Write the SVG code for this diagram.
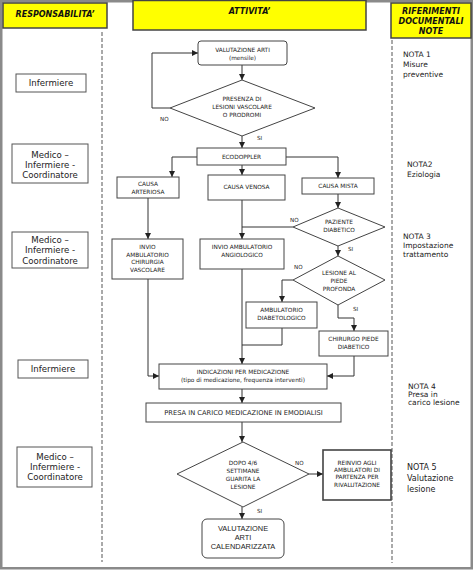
<svg xmlns="http://www.w3.org/2000/svg" width="474" height="571" viewBox="0 0 474 571">
<style>
.frame{fill:#fff;stroke:#8a8a8a;stroke-width:2.5}
.hdr{fill:#ffff00;stroke:#444;stroke-width:1.5}
.hdrt{font-family:"DejaVu Sans",Verdana,sans-serif;font-weight:bold;font-style:italic;font-size:8px;fill:#111;text-anchor:middle}
.dash{stroke:#555;stroke-width:1;stroke-dasharray:4,2;fill:none}
.role{fill:#fff;stroke:#555;stroke-width:1}
.rolet{font-family:"DejaVu Sans",Verdana,sans-serif;font-size:8.6px;fill:#222;text-anchor:middle}
.note{font-family:"DejaVu Sans",Verdana,sans-serif;font-size:7.5px;fill:#222}
.note5{font-family:"DejaVu Sans",Verdana,sans-serif;font-size:8px;fill:#222}
.box{fill:#fff;stroke:#444;stroke-width:1}
.t{font-family:"DejaVu Sans",Verdana,sans-serif;font-size:5.8px;fill:#222;text-anchor:middle}
.t2{font-family:"DejaVu Sans",Verdana,sans-serif;font-size:6.7px;fill:#222;text-anchor:middle}
.ta{font-family:"Liberation Sans",Arial,sans-serif;font-size:7.4px;fill:#222;text-anchor:middle}
.lbl{font-family:"DejaVu Sans",Verdana,sans-serif;font-size:5.6px;fill:#222}
.c{fill:none;stroke:#333;stroke-width:1}
</style>
<defs>
<marker id="ah" viewBox="0 0 8 8" refX="8" refY="4" markerWidth="6" markerHeight="6" markerUnits="userSpaceOnUse" orient="auto">
<path d="M0,0 L8,4 L0,8 z" fill="#222"/>
</marker>
</defs>

<rect class="frame" x="1.25" y="1.25" width="470.5" height="567"/>

<g id="headers">
<rect class="hdr" x="3" y="3" width="104" height="25"/>
<text class="hdrt" x="55" y="16.5">RESPONSABILITA’</text>
<rect class="hdr" x="133" y="0.5" width="233" height="29.5"/>
<text class="hdrt" x="249.5" y="14">ATTIVITA’</text>
<rect class="hdr" x="391" y="3" width="80" height="35"/>
<text class="hdrt" x="431" y="14">RIFERIMENTI</text>
<text class="hdrt" x="431" y="24">DOCUMENTALI</text>
<text class="hdrt" x="431" y="34">NOTE</text>
</g>

<g id="lanes">
<line class="dash" x1="102" y1="32" x2="102" y2="562"/>
<line class="dash" x1="392" y1="40" x2="392" y2="563"/>
</g>

<g id="roles">
<g id="role1"><rect class="role" x="16" y="74" width="70" height="18"/><text class="rolet" x="51" y="86">Infermiere</text></g>
<g id="role2"><rect class="role" x="12" y="144" width="76" height="39"/>
<text class="rolet" x="50" y="158">Medico –</text><text class="rolet" x="50" y="168">Infermiere -</text><text class="rolet" x="50" y="178">Coordinatore</text></g>
<g id="role3"><rect class="role" x="12" y="232" width="76" height="36"/>
<text class="rolet" x="50" y="243">Medico –</text><text class="rolet" x="50" y="253">Infermiere -</text><text class="rolet" x="50" y="264">Coordinatore</text></g>
<g id="role4"><rect class="role" x="18" y="360" width="70" height="18"/><text class="rolet" x="53" y="372">Infermiere</text></g>
<g id="role5"><rect class="role" x="17" y="447" width="75" height="40"/>
<text class="rolet" x="55" y="460">Medico –</text><text class="rolet" x="55" y="470">Infermiere -</text><text class="rolet" x="55" y="480">Coordinatore</text></g>
</g>

<g id="notes">
<text class="note" x="403" y="57">NOTA 1</text><text class="note" x="403" y="67">Misure</text><text class="note" x="403" y="77">preventive</text>
<text class="note" x="407" y="167">NOTA2</text><text class="note" x="407" y="177">Eziologia</text>
<text class="note" x="403" y="239">NOTA 3</text><text class="note" x="403" y="248">Impostazione</text><text class="note" x="403" y="257">trattamento</text>
<text class="note" x="408" y="389">NOTA 4</text><text class="note" x="408" y="397">Presa in</text><text class="note" x="408" y="405">carico lesione</text>
<text class="note5" x="407" y="470">NOTA 5</text><text class="note5" x="407" y="481">Valutazione</text><text class="note5" x="407" y="492">lesione</text>
</g>

<g id="connectors">
<path class="c" d="M242,65 V80" marker-end="url(#ah)"/>
<path class="c" d="M170,108 H152 V53 H198" marker-end="url(#ah)"/>
<path class="c" d="M242,136 V148" marker-end="url(#ah)"/>
<path class="c" d="M197,157 H172 V177" marker-end="url(#ah)"/>
<path class="c" d="M242,165 V175" marker-end="url(#ah)"/>
<path class="c" d="M286,157 H338 V178" marker-end="url(#ah)"/>
<path class="c" d="M338,194 V208" marker-end="url(#ah)"/>
<path class="c" d="M148,198 V239" marker-end="url(#ah)"/>
<path class="c" d="M242,200 V239" marker-end="url(#ah)"/>
<path class="c" d="M293,227 H242"/>
<path class="c" d="M338,246 V256" marker-end="url(#ah)"/>
<path class="c" d="M293,280 H282 V302" marker-end="url(#ah)"/>
<path class="c" d="M338,305 V318 H354 V331" marker-end="url(#ah)"/>
<path class="c" d="M242,269 V364" marker-end="url(#ah)"/>
<path class="c" d="M282,328 V345 H242"/>
<path class="c" d="M148,279 V376 H159" marker-end="url(#ah)"/>
<path class="c" d="M354,356 V376 H327" marker-end="url(#ah)"/>
<path class="c" d="M242,389 V403" marker-end="url(#ah)"/>
<path class="c" d="M242,422 V442" marker-end="url(#ah)"/>
<path class="c" d="M309,474 H323" marker-end="url(#ah)"/>
<path class="c" d="M242,507 V519" marker-end="url(#ah)"/>
<text class="lbl" x="160" y="121">NO</text>
<text class="lbl" x="257" y="140">SI</text>
<text class="lbl" x="290" y="222">NO</text>
<text class="lbl" x="348" y="251">SI</text>
<text class="lbl" x="294" y="269">NO</text>
<text class="lbl" x="353" y="311">SI</text>
<text class="lbl" x="295" y="465">NO</text>
<text class="lbl" x="257" y="513">SI</text>
</g>

<g id="n_valutazione">
<rect class="box" x="198" y="41" width="89" height="24" rx="3"/>
<text class="t" x="242.5" y="52">VALUTAZIONE ARTI</text><text class="t" x="242.5" y="59.5">(mensile)</text>
</g>
<g id="n_presenza">
<polygon class="box" points="242,80 315,108 242,136 170,108"/>
<text class="t" x="242" y="101">PRESENZA DI</text><text class="t" x="242" y="109">LESIONI VASCOLARE</text><text class="t" x="242" y="117">O PRODROMI</text>
</g>
<g id="n_ecodoppler">
<rect class="box" x="197" y="148" width="89" height="17"/>
<text class="t" x="241.5" y="159">ECODOPPLER</text>
</g>
<g id="n_arteriosa">
<rect class="box" x="117" y="177" width="62" height="21"/>
<text class="t" x="148" y="186">CAUSA</text><text class="t" x="148" y="194">ARTERIOSA</text>
</g>
<g id="n_venosa">
<rect class="box" x="208" y="175" width="77" height="25"/>
<text class="t" x="246.5" y="189">CAUSA VENOSA</text>
</g>
<g id="n_mista">
<rect class="box" x="302" y="178" width="72" height="16"/>
<text class="t" x="338" y="188">CAUSA MISTA</text>
</g>
<g id="n_paziente">
<polygon class="box" points="338,208 385,227 338,246 293,227"/>
<text class="t" x="339" y="224">PAZIENTE</text><text class="t" x="339" y="232">DIABETICO</text>
</g>
<g id="n_chirurgia">
<rect class="box" x="112" y="239" width="71" height="40"/>
<text class="t" x="147.5" y="249">INVIO</text><text class="t" x="147.5" y="256.5">AMBULATORIO</text><text class="t" x="147.5" y="264">CHIRURGIA</text><text class="t" x="147.5" y="271.5">VASCOLARE</text>
</g>
<g id="n_angiologico">
<rect class="box" x="200" y="239" width="84" height="30"/>
<text class="t" x="242" y="249">INVIO AMBULATORIO</text><text class="t" x="242" y="257">ANGIOLOGICO</text>
</g>
<g id="n_lesione">
<polygon class="box" points="338,256 385,280 338,305 293,280"/>
<text class="t" x="339" y="275">LESIONE AL</text><text class="t" x="339" y="283">PIEDE</text><text class="t" x="339" y="290.5">PROFONDA</text>
</g>
<g id="n_diabetologico">
<rect class="box" x="246" y="302" width="71" height="26"/>
<text class="t" x="281.5" y="312">AMBULATORIO</text><text class="t" x="281.5" y="320">DIABETOLOGICO</text>
</g>
<g id="n_chirurgo">
<rect class="box" x="319" y="331" width="69" height="25"/>
<text class="t" x="353.5" y="341">CHIRURGO PIEDE</text><text class="t" x="353.5" y="349">DIABETICO</text>
</g>
<g id="n_indicazioni">
<rect class="box" x="159" y="364" width="168" height="25"/>
<text class="t" x="243" y="374">INDICAZIONI PER MEDICAZIONE</text><text class="t" x="243" y="381.5">(tipo di medicazione, frequenza interventi)</text>
</g>
<g id="n_presa">
<rect class="box" x="146" y="403" width="195" height="19"/>
<text class="t2" x="243.5" y="415">PRESA IN CARICO MEDICAZIONE IN EMODIALISI</text>
</g>
<g id="n_dopo">
<polygon class="box" points="243,442 309,474 243,507 177,474"/>
<text class="t" x="243" y="465">DOPO 4/6</text><text class="t" x="243" y="473">SETTIMANE</text><text class="t" x="243" y="481">GUARITA LA</text><text class="t" x="243" y="489">LESIONE</text>
</g>
<g id="n_reinvio">
<rect class="box" x="323" y="450" width="68" height="50" style="stroke-width:1.6"/>
<text class="t" x="357" y="465">REINVIO AGLI</text><text class="t" x="357" y="472">AMBULATORI DI</text><text class="t" x="357" y="479">PARTENZA PER</text><text class="t" x="357" y="487">RIVALUTAZIONE</text>
</g>
<g id="n_calendarizzata">
<rect class="box" x="202" y="519" width="82" height="39" rx="5"/>
<text class="ta" x="243" y="530.5">VALUTAZIONE</text><text class="ta" x="243" y="539.5">ARTI</text><text class="ta" x="243" y="548.5">CALENDARIZZATA</text>
</g>
</svg>
